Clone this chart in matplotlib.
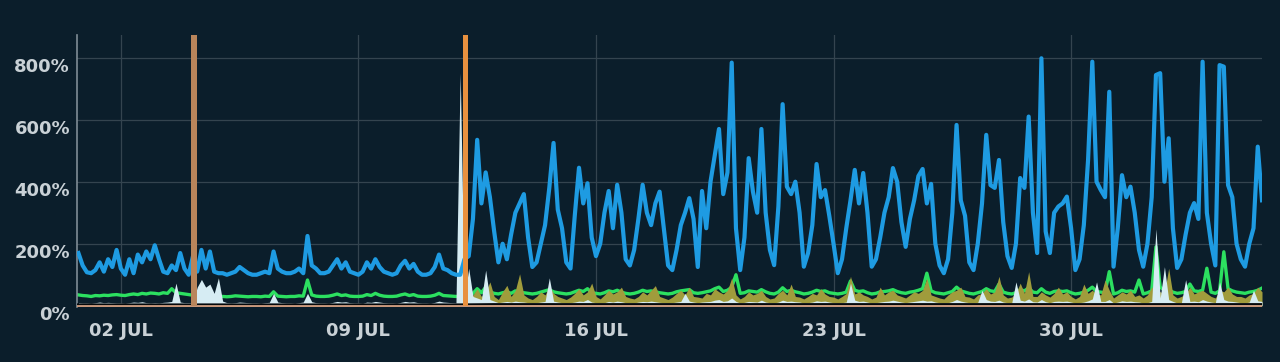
import matplotlib
matplotlib.use('Agg')

import matplotlib.pyplot as plt
import matplotlib.dates as mdates
import matplotlib.transforms as mtransforms
from matplotlib.ticker import FuncFormatter
import pandas as pd

# 3-hourly samples, Jun 30 18:00 -> Aug 4 15:00 (one row per day)
blue_rows = [
    [170, 130],
    [108, 105, 115, 140, 110, 150, 125, 180],
    [120, 100, 150, 105, 165, 140, 175, 150],
    [195, 150, 110, 105, 130, 115, 170, 120],
    [100, 160, 110, 180, 120, 175, 110, 105],
    [105, 100, 105, 110, 125, 115, 105, 100],
    [100, 105, 110, 105, 175, 120, 110, 105],
    [105, 110, 120, 105, 225, 130, 120, 105],
    [105, 110, 130, 150, 120, 140, 110, 105],
    [100, 110, 140, 120, 150, 125, 110, 105],
    [100, 105, 130, 145, 120, 135, 110, 100],
    [100, 105, 125, 165, 120, 115, 105, 100],
    [100, 150, 160, 280, 535, 330, 430, 350],
    [240, 140, 200, 150, 230, 300, 330, 360],
    [220, 125, 140, 200, 260, 380, 525, 310],
    [250, 140, 120, 290, 445, 330, 395, 220],
    [160, 200, 300, 370, 250, 390, 300, 150],
    [130, 180, 280, 390, 300, 260, 330, 368],
    [250, 130, 115, 180, 260, 300, 347, 280],
    [125, 370, 250, 400, 486, 570, 360, 430],
    [784, 250, 115, 220, 476, 368, 300, 570],
    [300, 180, 131, 320, 650, 384, 360, 400],
    [300, 126, 170, 260, 457, 350, 373, 290],
    [200, 105, 150, 250, 340, 438, 330, 428],
    [300, 126, 150, 220, 300, 350, 444, 400],
    [270, 190, 280, 340, 418, 441, 330, 393],
    [200, 130, 105, 150, 300, 583, 340, 290],
    [140, 115, 200, 330, 551, 389, 380, 470],
    [270, 160, 122, 200, 412, 380, 610, 300],
    [170, 798, 240, 170, 300, 320, 330, 352],
    [250, 115, 150, 260, 470, 787, 400, 373],
    [350, 690, 126, 250, 421, 350, 384, 300],
    [180, 126, 200, 350, 744, 750, 400, 540],
    [250, 122, 150, 230, 300, 331, 280, 787],
    [300, 200, 130, 776, 771, 389, 350, 200],
    [150, 126, 200, 250, 513, 340],
]

green_rows = [
    [35, 33],
    [32, 30, 33, 32, 34, 33, 35, 36],
    [34, 33, 36, 38, 36, 40, 38, 41],
    [40, 38, 42, 40, 55, 42, 40, 38],
    [36, 34, 32, 30, 30, 31, 30, 30],
    [30, 29, 30, 32, 31, 30, 29, 30],
    [30, 29, 31, 30, 45, 31, 30, 29],
    [30, 30, 32, 31, 83, 35, 31, 30],
    [30, 31, 34, 38, 33, 35, 31, 30],
    [30, 31, 36, 33, 40, 34, 31, 30],
    [30, 31, 35, 38, 33, 36, 31, 30],
    [30, 31, 34, 40, 33, 32, 31, 30],
    [30, 30, 35, 40, 55, 42, 60, 45],
    [40, 38, 42, 45, 40, 48, 44, 42],
    [40, 38, 40, 44, 48, 52, 45, 42],
    [40, 38, 40, 45, 50, 46, 55, 42],
    [40, 38, 42, 48, 45, 50, 44, 40],
    [38, 40, 44, 50, 46, 48, 45, 42],
    [40, 38, 40, 45, 48, 50, 52, 42],
    [40, 42, 45, 48, 55, 60, 46, 50],
    [60, 100, 40, 42, 48, 46, 44, 52],
    [45, 40, 38, 44, 58, 46, 50, 45],
    [42, 38, 40, 44, 50, 46, 48, 42],
    [40, 38, 40, 44, 80, 50, 46, 48],
    [42, 38, 40, 45, 46, 48, 52, 46],
    [42, 40, 44, 46, 50, 55, 105, 48],
    [42, 40, 38, 42, 46, 60, 48, 44],
    [40, 38, 42, 46, 55, 48, 46, 70],
    [44, 40, 38, 42, 52, 48, 58, 44],
    [42, 55, 44, 40, 46, 48, 46, 48],
    [42, 38, 40, 44, 50, 60, 46, 44],
    [42, 110, 38, 42, 50, 46, 48, 44],
    [83, 38, 42, 48, 190, 60, 50, 52],
    [44, 40, 42, 46, 70, 48, 46, 50],
    [121, 44, 40, 48, 174, 55, 48, 44],
    [42, 40, 44, 46, 50, 57],
]

olive_rows = [
    [0, 0],
    [0, 0, 0, 0, 0, 0, 0, 0],
    [0, 0, 0, 0, 0, 0, 0, 0],
    [0, 0, 0, 0, 0, 0, 0, 0],
    [0, 0, 0, 0, 0, 0, 0, 0],
    [0, 0, 0, 0, 0, 0, 0, 0],
    [0, 0, 0, 0, 0, 0, 0, 0],
    [0, 0, 0, 0, 0, 0, 0, 0],
    [0, 0, 0, 0, 0, 0, 0, 0],
    [0, 0, 0, 0, 0, 0, 0, 0],
    [0, 0, 0, 0, 0, 0, 0, 0],
    [0, 0, 0, 0, 0, 0, 0, 0],
    [0, 0, 15, 35, 55, 30, 45, 77],
    [30, 20, 45, 66, 30, 50, 103, 35],
    [25, 20, 30, 45, 35, 64, 40, 30],
    [25, 20, 28, 40, 55, 35, 45, 73],
    [30, 22, 35, 50, 38, 45, 60, 30],
    [25, 22, 30, 45, 35, 50, 65, 30],
    [25, 20, 28, 40, 50, 35, 60, 30],
    [28, 25, 40, 35, 55, 45, 38, 50],
    [90, 35, 22, 30, 45, 35, 40, 50],
    [30, 22, 25, 40, 50, 35, 70, 30],
    [28, 22, 30, 40, 35, 55, 38, 30],
    [28, 22, 30, 40, 95, 38, 45, 35],
    [30, 22, 28, 60, 35, 45, 50, 35],
    [30, 25, 35, 45, 40, 50, 89, 35],
    [30, 25, 22, 35, 45, 50, 60, 30],
    [28, 22, 35, 40, 55, 38, 45, 95],
    [35, 25, 28, 40, 73, 40, 110, 30],
    [30, 45, 35, 28, 40, 60, 38, 45],
    [30, 22, 30, 70, 40, 50, 38, 35],
    [83, 50, 25, 35, 45, 38, 50, 30],
    [35, 25, 35, 60, 50, 45, 40, 121],
    [35, 25, 30, 40, 60, 38, 45, 50],
    [40, 30, 25, 50, 45, 60, 38, 30],
    [30, 25, 35, 40, 60, 45],
]

white_rows = [
    [10, 9],
    [9, 8, 10, 12, 10, 11, 10, 9],
    [9, 8, 10, 12, 11, 13, 10, 9],
    [10, 9, 11, 12, 14, 73, 12, 10],
    [10, 9, 60, 85, 60, 70, 40, 90],
    [15, 10, 9, 10, 12, 11, 10, 9],
    [9, 8, 10, 11, 40, 12, 10, 9],
    [9, 8, 10, 12, 40, 13, 10, 9],
    [9, 8, 11, 14, 12, 13, 10, 9],
    [9, 8, 12, 11, 14, 12, 10, 9],
    [9, 8, 11, 14, 12, 13, 10, 9],
    [9, 8, 11, 15, 12, 11, 10, 9],
    [751, 20, 121, 30, 25, 20, 115, 20],
    [15, 10, 12, 14, 12, 15, 13, 12],
    [10, 9, 10, 12, 14, 90, 15, 12],
    [10, 9, 10, 12, 15, 14, 20, 12],
    [10, 9, 10, 14, 12, 15, 13, 10],
    [10, 9, 12, 14, 13, 15, 13, 11],
    [10, 9, 10, 12, 14, 40, 15, 12],
    [10, 12, 13, 14, 18, 20, 14, 16],
    [25, 14, 9, 11, 14, 13, 12, 18],
    [12, 10, 9, 12, 18, 14, 15, 13],
    [12, 9, 10, 12, 16, 14, 15, 12],
    [10, 9, 10, 12, 73, 18, 14, 15],
    [12, 9, 10, 12, 14, 15, 18, 15],
    [12, 10, 12, 14, 16, 18, 15, 16],
    [12, 10, 9, 10, 14, 20, 15, 12],
    [10, 9, 11, 50, 20, 15, 14, 18],
    [12, 10, 9, 77, 18, 15, 22, 13],
    [12, 20, 13, 10, 14, 15, 14, 15],
    [12, 9, 10, 12, 16, 22, 77, 14],
    [14, 20, 9, 12, 16, 14, 15, 13],
    [12, 9, 10, 14, 248, 25, 126, 20],
    [14, 9, 10, 84, 14, 15, 13, 20],
    [15, 12, 10, 77, 20, 15, 14, 12],
    [10, 9, 12, 50, 16, 14],
]

# daily samples for the two flat series near the floor
black_vals = [4, 4, 4, 4, 4, 4, 4, 4, 4, 4, 4, 4, 4, 5, 5, 5, 5, 5, 5,
              5, 5, 5, 5, 5, 5, 5, 5, 5, 5, 5, 5, 5, 5, 5, 5, 5, 5]
tan_vals = [0, 0, 0, 0, 0, 0, 0, 0, 0, 0, 0, 0, 0, 0, 0, 0, 0, 0, 0,
            0, 0, 0, 0, 0, 0, 0, 0, 0, 0, 0, 0, 0, 0, 0, 0, 0, 0]

# the two off-scale spikes
orange_times = ['2023-07-04 03:45', '2023-07-12 03:30']
orange_vals = [3000, 3000]

y_ticks = [0, 200, 400, 600, 800]
x_ticks = ['2023-07-02', '2023-07-09', '2023-07-16', '2023-07-23', '2023-07-30']


def flatten(rows):
    return [v for row in rows for v in row]


times = pd.date_range('2023-06-30 18:00', periods=len(flatten(blue_rows)), freq='3h')
daily = pd.date_range('2023-06-30', periods=len(black_vals), freq='D')

BG = '#0b1e2b'
TXT = '#c9d1d6'
GRID = '#34444f'

fig = plt.figure(figsize=(12.8, 3.62), dpi=100, facecolor=BG)
ax = fig.add_axes([77 / 1280, 55 / 362, 1185 / 1280, 272 / 362], facecolor=BG)

ax.plot(times, flatten(green_rows), color='#2ce060', linewidth=2.4, zorder=2)
ax.fill_between(times, 0, flatten(olive_rows), color='#a09c3c', linewidth=0, zorder=3)
ax.fill_between(times, 0, flatten(white_rows), color='#d6ecf3', linewidth=0, zorder=4)
ax.plot(daily, black_vals, color='#04080b', linewidth=1.6, zorder=5)
ax.plot(daily, tan_vals, color='#c9977a', linewidth=2.0, zorder=6)
ax.plot(times, flatten(blue_rows), color='#1e9be2', linewidth=3.0, zorder=7)
ax.bar(pd.to_datetime(orange_times), orange_vals, width=0.15,
       color=['#b9855b', '#e8913f'], linewidth=0, zorder=8)

ax.set_xlim(pd.Timestamp('2023-06-30 17:00'), pd.Timestamp('2023-08-04 15:00'))
ax.set_ylim(-4, 873)

ax.set_yticks(y_ticks)
ax.yaxis.set_major_formatter(FuncFormatter(lambda v, _: f"{int(v)}%"))
ax.set_xticks(pd.to_datetime(x_ticks))
ax.xaxis.set_major_formatter(FuncFormatter(lambda v, _: mdates.num2date(v).strftime('%d %b').upper()))

ax.grid(True, color=GRID, linewidth=0.9, zorder=0)
ax.set_axisbelow(True)

for side in ['top', 'right', 'bottom']:
    ax.spines[side].set_visible(False)
ax.spines['left'].set_color('#7f8c95')
ax.spines['left'].set_linewidth(1.2)

ax.tick_params(axis='y', length=0, pad=5, labelcolor=TXT)
ax.tick_params(axis='x', length=0, pad=10.5, labelcolor=TXT)
for lbl in ax.get_yticklabels() + ax.get_xticklabels():
    lbl.set_fontfamily('DejaVu Sans')
    lbl.set_fontweight('bold')
    lbl.set_fontsize(13)

# y labels sit a little under their grid lines
shift = mtransforms.ScaledTranslation(0, -0.07, fig.dpi_scale_trans)
for lbl in ax.get_yticklabels():
    lbl.set_transform(lbl.get_transform() + shift)

fig.savefig('out.png', dpi=100, facecolor=BG)
plt.close(fig)
